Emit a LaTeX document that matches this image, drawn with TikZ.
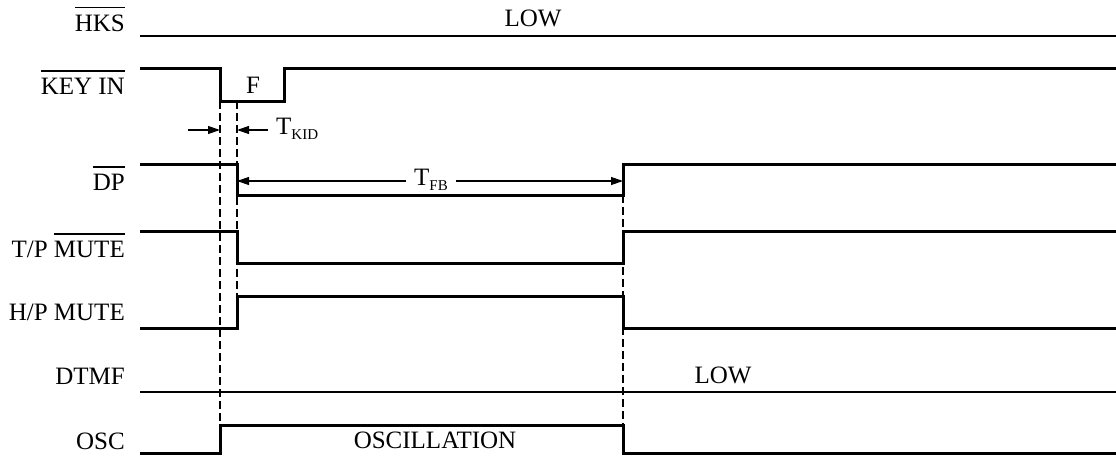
\documentclass[tikz,border=0pt]{standalone}
\usepackage{fontspec}
\setmainfont{Liberation Serif}
\usetikzlibrary{arrows.meta}
\newcommand{\sublbl}[1]{\raisebox{-0.45ex}{\fontsize{15}{15}\selectfont #1}}
\newcommand{\ovl}[1]{\vbox{\hrule height 1.4pt\kern 6pt\hbox{#1}}}
\begin{document}
\begin{tikzpicture}[x=1pt,y=-1pt,
  sig/.style={line width=3pt},
  flat/.style={line width=2.3pt},
  guide/.style={line width=2pt,dash pattern=on 7.5pt off 4.5pt},
  dim/.style={line width=1.2pt,-{Triangle[length=12pt,width=8pt]}},
  lbl/.style={anchor=base east,inner sep=0pt,font=\fontsize{25}{29}\selectfont},
  txt/.style={inner sep=0pt,font=\fontsize{25}{29}\selectfont}]
  \useasboundingbox (0,0) rectangle (1116,455);
  % time marks
  \coordinate (ta) at (220,0);
  \coordinate (tb) at (237,0);
  \coordinate (td) at (623,0);
  % signal names
  \node[lbl] (hks)   at (125,31)  {\ovl{HKS}};
  \node[lbl] (keyin) at (125,94)  {\ovl{KEY IN}};
  \node[lbl] (dp)    at (125,190) {\ovl{DP}};
  \node[lbl] (tp)    at (125,257) {T/P \ovl{MUTE}};
  \node[lbl] (hp)    at (125,320) {H/P MUTE};
  \node[lbl] (dtmf)  at (125,384) {DTMF};
  \node[lbl] (osc)   at (125,449) {OSC};
  % guide lines
  \draw[guide] (220,101) -- (220,425);
  \draw[guide] (237,101) -- (237,296);
  \draw[guide] (623,195) -- (623,425);
  % waveforms
  \draw[flat] (140,36) -- (1116,36);
  \draw[sig] (140,68) -- (220,68) -- (220,101) -- (284,101) -- (284,68) -- (1116,68);
  \draw[sig] (140,164) -- (237,164) -- (237,195) -- (623,195) -- (623,164) -- (1116,164);
  \draw[sig] (140,231) -- (237,231) -- (237,263) -- (623,263) -- (623,231) -- (1116,231);
  \draw[sig] (140,328) -- (237,328) -- (237,296) -- (623,296) -- (623,328) -- (1116,328);
  \draw[flat] (140,392) -- (1116,392);
  \draw[sig] (140,453) -- (220,453) -- (220,425) -- (623,425) -- (623,453) -- (1116,453);
  % texts
  \node[txt] (low1) at (533,18)  {LOW};
  \node[txt] (f)    at (253,85)  {F};
  \node[txt] (low2) at (723,375) {LOW};
  \node[txt] (oscl) at (435,440) {OSCILLATION};
  % timing marks
  \coordinate (kid1) at (188,130);
  \coordinate (kid2) at (268,130);
  \draw[dim] (kid1) -- (ta |- kid1);
  \draw[dim] (kid2) -- (tb |- kid2);
  \node[txt,anchor=west] (tkid) at (276,129) {T\sublbl{KID}};
  \node[txt,inner xsep=8pt] (tfb) at (431,180) {T\sublbl{FB}};
  \draw[dim] (tfb.west |- 0,181) -- (tb |- 0,181);
  \draw[dim] (tfb.east |- 0,181) -- (td |- 0,181);
\end{tikzpicture}
\end{document}
